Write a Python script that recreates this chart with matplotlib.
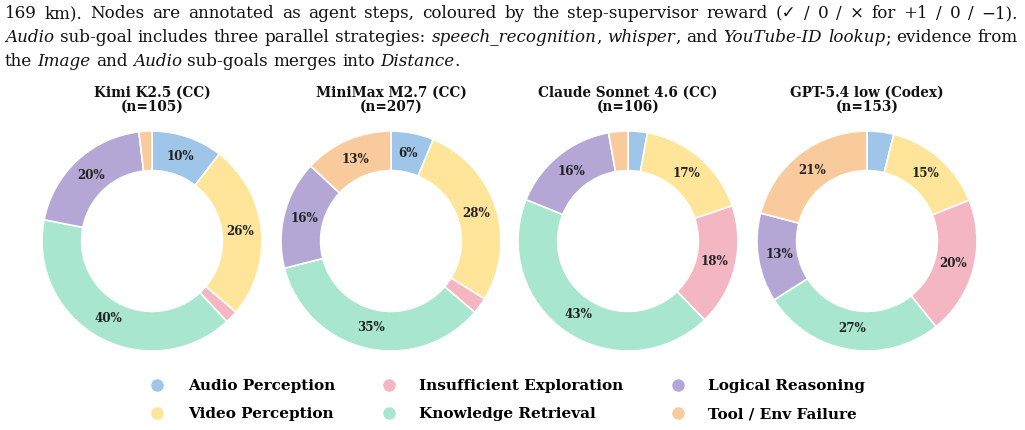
import matplotlib
matplotlib.use("Agg")
import matplotlib.pyplot as plt
from matplotlib.lines import Line2D
from matplotlib.font_manager import FontProperties

# ---------------- data ----------------
categories = ["Audio Perception", "Video Perception", "Insufficient Exploration",
              "Knowledge Retrieval", "Logical Reasoning", "Tool / Env Failure"]
colors = ["#9fc5e8", "#ffe599", "#f4b6c2", "#a8e6cf", "#b4a7d6", "#f9cb9c"]
models = ["Kimi K2.5 (CC)", "MiniMax M2.7 (CC)", "Claude Sonnet 4.6 (CC)", "GPT-5.4 low (Codex)"]
kimi_counts = [11, 27, 2, 42, 21, 2]
minimax_counts = [13, 57, 5, 72, 33, 27]
claude_counts = [3, 18, 19, 46, 17, 3]
gpt_counts = [6, 23, 31, 41, 20, 32]
all_counts = [kimi_counts, minimax_counts, claude_counts, gpt_counts]

caption_lines = [
    [("169 km). Nodes are annotated as agent steps, coloured by the step-supervisor reward "
      "(\u2713 / 0 / \u00d7 for +1 / 0 / \u22121).", False)],
    [("Audio", True), (" sub-goal includes three parallel strategies: ", False),
     ("speech_recognition", True), (", ", False), ("whisper", True), (", and ", False),
     ("YouTube-ID lookup", True), ("; evidence from", False)],
    [("the ", False), ("Image", True), (" and ", False), ("Audio", True),
     (" sub-goals merges into ", False), ("Distance", True), (".", False)],
]

# ---------------- figure ----------------
W, H = 1025, 430
fig = plt.figure(figsize=(W / 100, H / 100), dpi=100)
fig.patch.set_facecolor("white")
renderer = fig.canvas.get_renderer()

# ---- caption (justified lines) ----
cap_family = ["DejaVu Serif", "DejaVu Sans"]


def fp(size, italic):
    return FontProperties(family=cap_family, size=size, style="italic" if italic else "normal")


def words_of(line):
    words = [[]]
    for txt, it in line:
        parts = txt.split(" ")
        for k, p in enumerate(parts):
            if k > 0:
                words.append([])
            if p:
                words[-1].append((p, it))
    return [w for w in words if w]


def run_width(s, it, size):
    t = fig.text(0, 0, s, fontproperties=fp(size, it))
    w = t.get_window_extent(renderer).width
    t.remove()
    return w


def word_width(word, size):
    return sum(run_width(s, it, size) for s, it in word)


def space_width(size):
    return run_width("a a", False, size) - 2 * run_width("a", False, size)


left_px, right_px = 5, 1018
target = right_px - left_px
justify = [True, True, False]
base = 10.0
sizes = []
for line, just in zip(caption_lines, justify):
    if not just:
        continue
    ws = words_of(line)
    nat = sum(word_width(w, base) for w in ws) + space_width(base) * (len(ws) - 1)
    sizes.append(base * target / nat)
cap_size = min(sizes)

baselines = [18, 42, 66]
for line, yb, just in zip(caption_lines, baselines, justify):
    words = words_of(line)
    widths = [word_width(w, cap_size) for w in words]
    sp = space_width(cap_size)
    if just:
        sp = (target - sum(widths)) / (len(words) - 1)
    x = left_px
    for w, ww in zip(words, widths):
        xx = x
        for s, it in w:
            fig.text(xx / W, 1 - yb / H, s, fontproperties=fp(cap_size, it),
                     ha="left", va="baseline", color="#111111")
            xx += run_width(s, it, cap_size)
        x += ww + sp

# ---- donuts ----
centers_x = [152, 391, 628, 867]
center_y = 241
R = 110


def fmt(p):
    return f"{p:.0f}%" if p >= 5 else ""


for name, counts, cx in zip(models, all_counts, centers_x):
    ax = fig.add_axes([(cx - R) / W, 1 - (center_y + R) / H, 2 * R / W, 2 * R / H])
    ax.pie(counts, colors=colors, startangle=90, counterclock=False, radius=1.0,
           wedgeprops=dict(width=0.36, edgecolor="white", linewidth=1.2),
           autopct=fmt, pctdistance=0.81,
           textprops=dict(family="DejaVu Serif", weight="bold", size=8.6, color="#222222"))
    ax.set_xlim(-1, 1)
    ax.set_ylim(-1, 1)
    ax.set_aspect("equal")
    ax.axis("off")
    n = sum(counts)
    fig.text(cx / W, 1 - 99.5 / H, f"{name}\n(n={n})", ha="center", va="center",
             family="DejaVu Serif", weight="bold", size=9.8, linespacing=1.0,
             color="#111111")

# ---- legend ----
handles = [Line2D([], [], marker="o", linestyle="", markersize=9, color=c,
                  markeredgecolor="none") for c in colors]
fig.legend(handles, categories, loc="center", bbox_to_anchor=(503.5 / W, 1 - 400 / H), ncol=3,
           frameon=False, prop=dict(family="DejaVu Serif", weight="bold", size=11),
           handletextpad=1.0, columnspacing=2.53, labelspacing=0.93, handlelength=2.0)

fig.savefig("out.png", dpi=100, facecolor="white")
